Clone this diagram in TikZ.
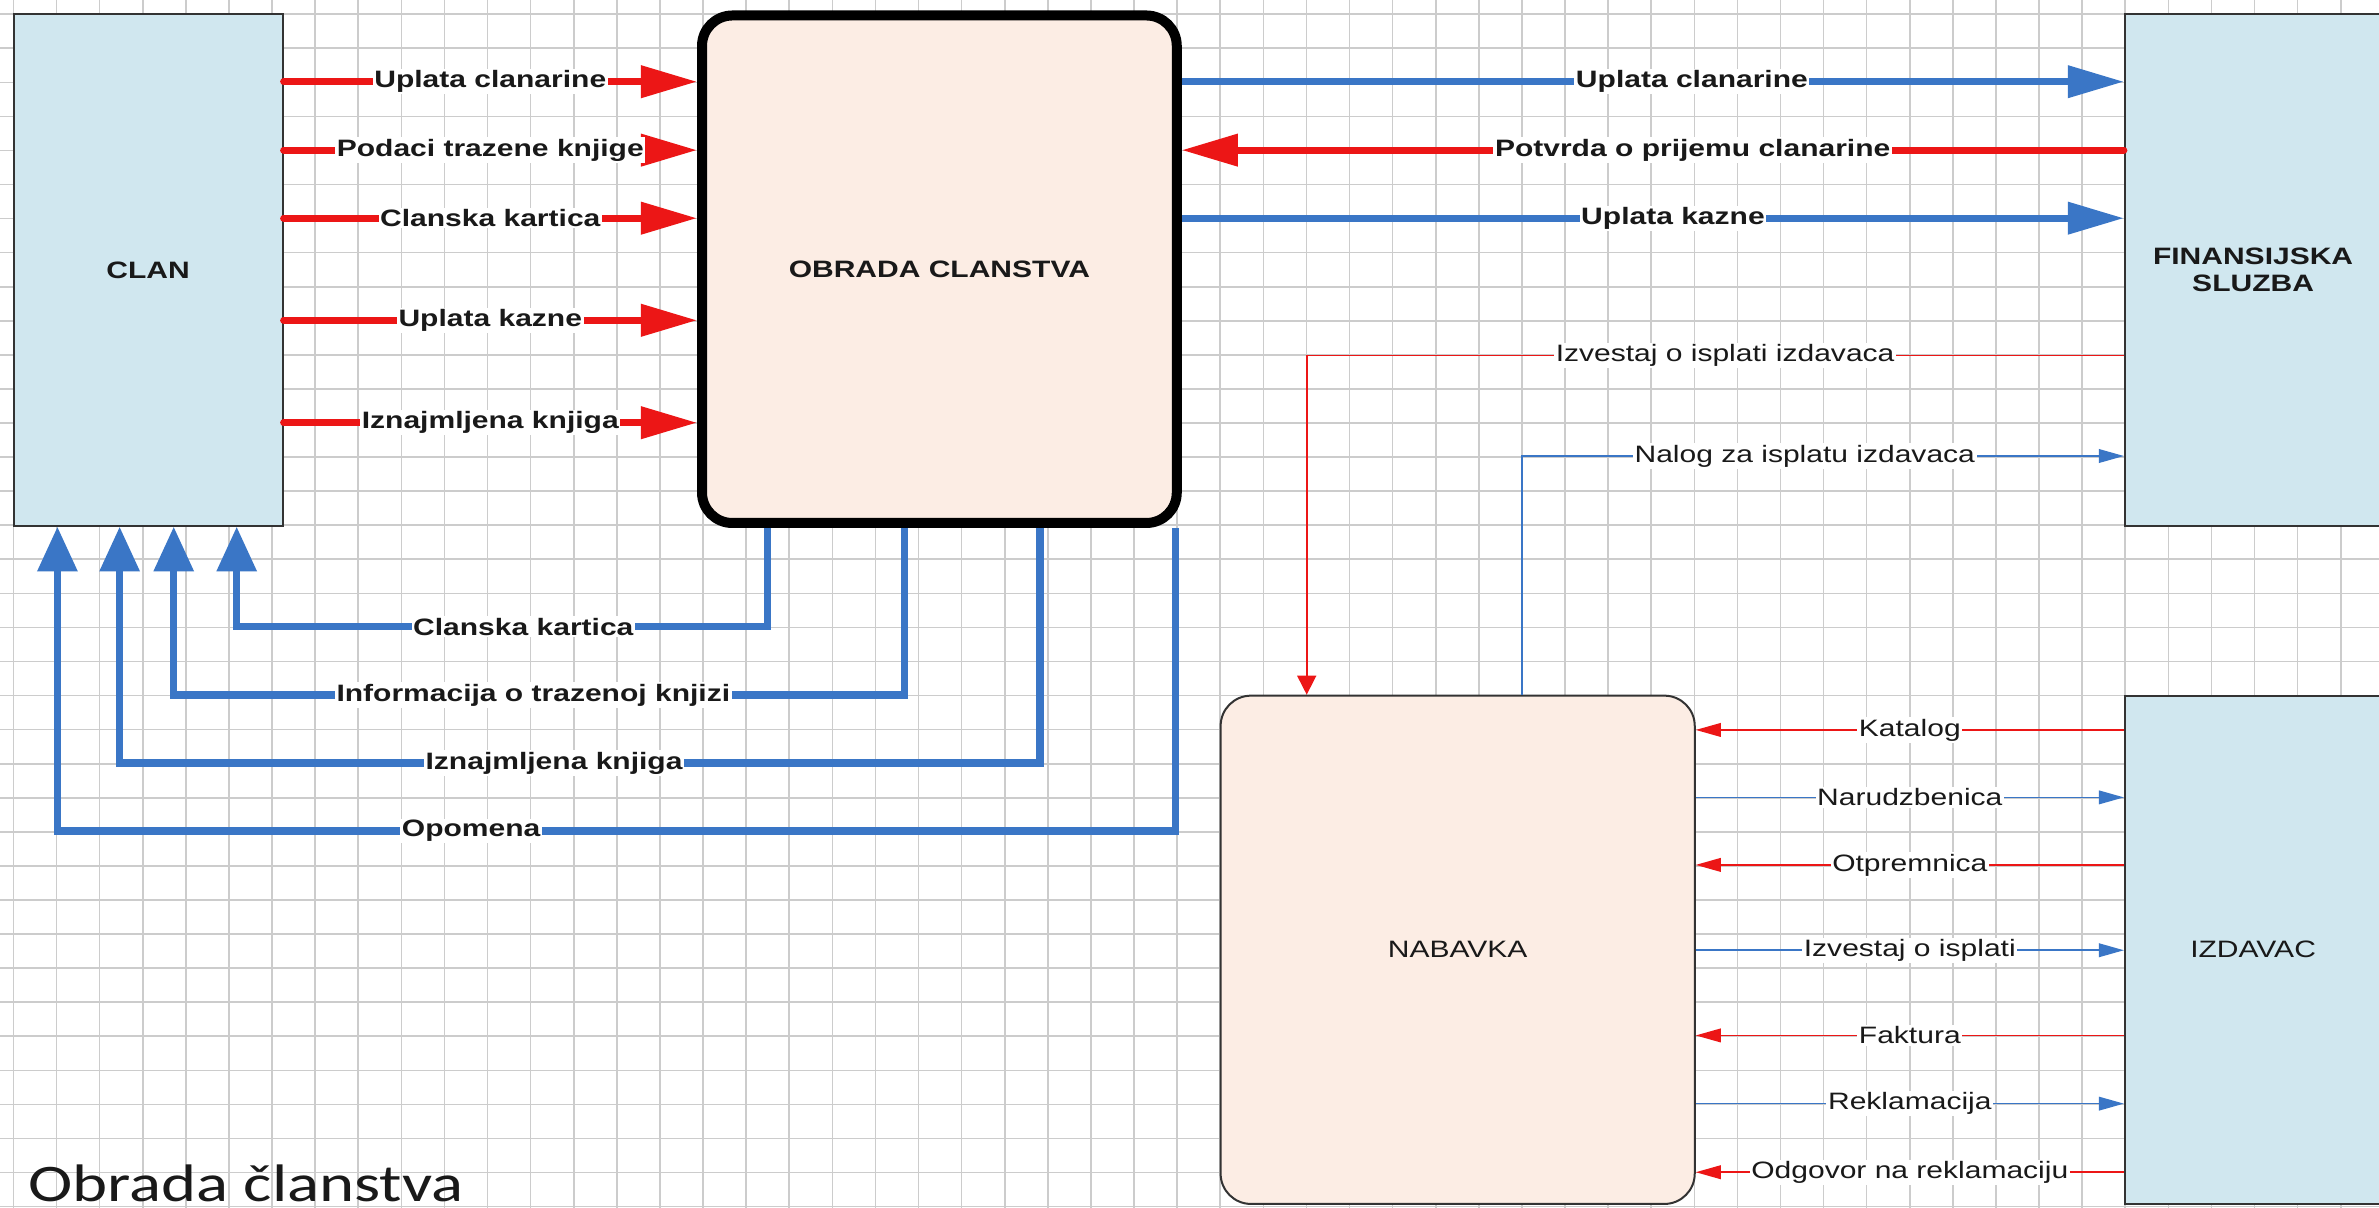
\documentclass[tikz,border=0pt]{standalone}
\usepackage{fontspec}
\setmainfont[FakeStretch=1.265]{Liberation Sans}
\newfontfamily\titlefont[FakeStretch=1.265]{Carlito}
\usetikzlibrary{arrows.meta}
\definecolor{mycolor1}{RGB}{236,22,22}
\definecolor{mycolor2}{RGB}{58,118,198}
\definecolor{mycolor3}{RGB}{208,231,239}
\definecolor{mycolor4}{RGB}{252,237,228}

\begin{document}
\begin{tikzpicture}
    \tikzstyle{every node}=[font=\fontsize{8.9}{10}\selectfont, text=black!90]
    \tikzstyle{entity}=[draw=black!80, line width=0.75pt, fill=mycolor3, inner sep=0pt]
    \tikzstyle{lbl}=[fill=white, inner sep=0.6pt, font=\fontsize{8.9}{10}\selectfont\bfseries]
    \tikzstyle{tlbl}=[fill=white, inner sep=0.6pt]
    \tikzstyle{redflow}=[mycolor1, line width=2.6pt, line cap=round, -{Triangle[length=0.74cm,width=0.41cm]}]
    \tikzstyle{blueflow}=[mycolor2, line width=2.6pt, -{Triangle[length=0.74cm,width=0.41cm]}]
    \tikzstyle{blueup}=[mycolor2, line width=2.8pt, -{Triangle[length=0.59cm,width=0.51cm]}]
    \tikzstyle{thinred}=[mycolor1, line width=0.6pt, -{Triangle[length=0.33cm,width=0.18cm]}]
    \tikzstyle{thinblue}=[mycolor2, line width=0.6pt, -{Triangle[length=0.33cm,width=0.18cm]}]

    \useasboundingbox (0,0) rectangle (31.36,-15.911);
    \clip (0,0) rectangle (31.36,-15.911);

    % Grid
    \fill[white] (0,0) rectangle (31.36,-15.911);
    \draw[black!20, line width=0.6pt, xstep=0.5681, ystep=0.4491, shift={(0.178,-0.187)}] (-0.6,-16.5) grid (31.5,0.5);

    % Boxes
    \node[entity, minimum width=3.545cm, minimum height=6.743cm, font=\fontsize{8.9}{10}\selectfont\bfseries] at (1.9525,-3.5585) (Cl) {CLAN};
    \node[draw=black, line width=3.75pt, fill=mycolor4, rounded corners=0.4cm, minimum width=6.258cm, minimum height=6.69cm, font=\fontsize{8.9}{10}\selectfont\bfseries] at (12.383,-3.549) (Ob) {OBRADA CLANSTVA};
    \node[entity, minimum width=3.38cm, minimum height=6.743cm, align=center, font=\fontsize{8.9}{10}\selectfont\bfseries] at (29.70,-3.5585) (Fs) {FINANSIJSKA\\SLUZBA};
    \node[draw=black!80, line width=0.75pt, fill=mycolor4, rounded corners=0.4cm, minimum width=6.25cm, minimum height=6.70cm] at (19.215,-12.52) (Nb) {NABAVKA};
    \node[entity, minimum width=3.38cm, minimum height=6.70cm] at (29.70,-12.52) (Iz) {IZDAVAC};

    % Clan -> obrada
    \draw[redflow] (Cl.east |- 0,-1.077) -- node[lbl]{Uplata clanarine} (Ob.west |- 0,-1.077);
    \draw[redflow] (Cl.east |- 0,-1.979) -- node[lbl]{Podaci trazene knjige} (Ob.west |- 0,-1.979);
    \draw[redflow] (Cl.east |- 0,-2.876) -- node[lbl]{Clanska kartica} (Ob.west |- 0,-2.876);
    \draw[redflow] (Cl.east |- 0,-4.222) -- node[lbl]{Uplata kazne} (Ob.west |- 0,-4.222);
    \draw[redflow] (Cl.east |- 0,-5.572) -- node[lbl]{Iznajmljena knjiga} (Ob.west |- 0,-5.572);

    % Obrada <-> finansijska sluzba
    \draw[blueflow] (Ob.east |- 0,-1.077) -- node[lbl, pos=0.5415]{Uplata clanarine} (Fs.west |- 0,-1.077);
    \draw[redflow] (Fs.west |- 0,-1.979) -- node[lbl, pos=0.4577]{Potvrda o prijemu clanarine} (Ob.east |- 0,-1.979);
    \draw[blueflow] (Ob.east |- 0,-2.876) -- node[lbl, pos=0.5214]{Uplata kazne} (Fs.west |- 0,-2.876);

    % Obrada -> clan
    \coordinate (k1) at (3.120,-8.261);
    \coordinate (k2) at (2.290,-9.162);
    \coordinate (k3) at (1.577,-10.058);
    \coordinate (k4) at (0.757,-10.954);
    \draw[blueup] (Ob.south -| 10.117,0) |- node[lbl, pos=0.730]{Clanska kartica} (k1) -- (Cl.south -| k1);
    \draw[blueup] (Ob.south -| 11.925,0) |- node[lbl, pos=0.754]{Informacija o trazenoj knjizi} (k2) -- (Cl.south -| k2);
    \draw[blueup] (Ob.south -| 13.710,0) |- node[lbl, pos=0.764]{Iznajmljena knjiga} (k3) -- (Cl.south -| k3);
    \draw[blueup] (Ob.south -| 15.497,0) |- node[lbl, pos=0.815]{Opomena} (k4) -- (Cl.south -| k4);

    % Finansijska sluzba <-> nabavka
    \coordinate (f1) at (17.225,-4.688);
    \coordinate (f2) at (20.06,-6.011);
    \draw[thinred, -{Triangle[length=0.25cm,width=0.25cm]}] (Fs.west |- f1) -| node[tlbl, pos=0.244]{Izvestaj o isplati izdavaca} (Nb.north -| f1);
    \draw[thinblue] (Nb.north -| f2) |- node[tlbl, pos=0.735]{Nalog za isplatu izdavaca} (Fs.west |- f2);

    % Nabavka <-> izdavac
    \draw[thinred] (Iz.west |- 0,-9.622) -- node[tlbl]{Katalog} (Nb.east |- 0,-9.622);
    \draw[thinblue] (Nb.east |- 0,-10.511) -- node[tlbl]{Narudzbenica} (Iz.west |- 0,-10.511);
    \draw[thinred] (Iz.west |- 0,-11.401) -- node[tlbl]{Otpremnica} (Nb.east |- 0,-11.401);
    \draw[thinblue] (Nb.east |- 0,-12.526) -- node[tlbl]{Izvestaj o isplati} (Iz.west |- 0,-12.526);
    \draw[thinred] (Iz.west |- 0,-13.649) -- node[tlbl]{Faktura} (Nb.east |- 0,-13.649);
    \draw[thinblue] (Nb.east |- 0,-14.548) -- node[tlbl]{Reklamacija} (Iz.west |- 0,-14.548);
    \draw[thinred] (Iz.west |- 0,-15.452) -- node[tlbl]{Odgovor na reklamaciju} (Nb.east |- 0,-15.452);

    % Title
    \node[anchor=base west, inner sep=0pt, font=\titlefont\fontsize{19.8}{22}\selectfont] at (0.37,-15.84) (Tt) {Obrada članstva};

\end{tikzpicture}
\end{document}
